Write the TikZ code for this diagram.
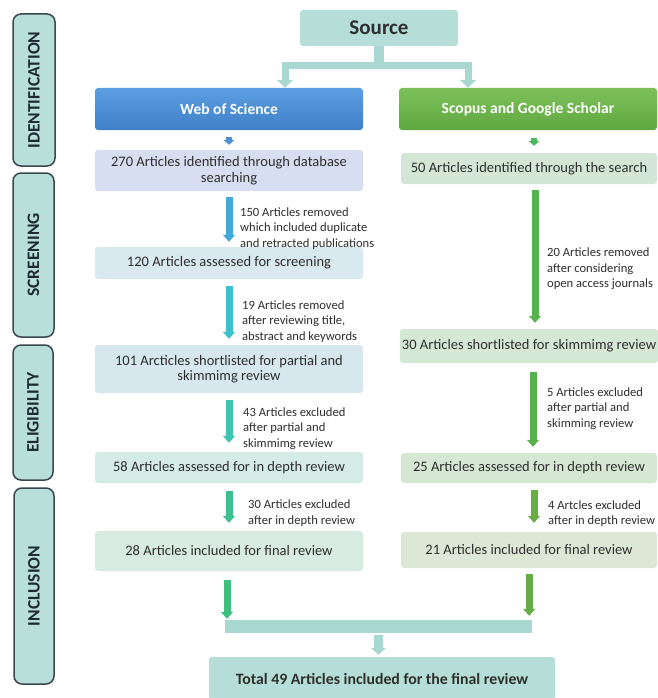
\documentclass[tikz,border=0pt]{standalone}
\usepackage{fontspec}
\setmainfont{Carlito}
\usetikzlibrary{arrows.meta,calc}
\definecolor{txt}{HTML}{2E2E2E}
\definecolor{sidefill}{HTML}{B9DFDA}
\definecolor{sideborder}{HTML}{3A4650}
\definecolor{sidetxt}{HTML}{1E2A33}
\definecolor{srcfill}{HTML}{B5DED9}
\definecolor{srcarrow}{HTML}{A9D8D3}
\definecolor{wostop}{HTML}{5C9EE0}
\definecolor{wosbot}{HTML}{3F80C9}
\definecolor{scotop}{HTML}{7DC05A}
\definecolor{scobot}{HTML}{5FA83F}
\definecolor{c270}{HTML}{D8DEF1}
\definecolor{c120}{HTML}{D9E9F0}
\definecolor{c101}{HTML}{D6E8EE}
\definecolor{c58}{HTML}{D5EBE6}
\definecolor{c28}{HTML}{D7EBE3}
\definecolor{c50}{HTML}{D4E7D7}
\definecolor{c30}{HTML}{D5E8D5}
\definecolor{c25}{HTML}{D6E8D4}
\definecolor{c21}{HTML}{DCE8D5}
\definecolor{a1}{HTML}{4F8FD8}
\definecolor{a2}{HTML}{45A8DA}
\definecolor{a3}{HTML}{3EC0CC}
\definecolor{a4}{HTML}{40C4B2}
\definecolor{a5}{HTML}{3CC08E}
\definecolor{a6}{HTML}{3EBF80}
\definecolor{ga}{HTML}{4DB85E}
\definecolor{gb}{HTML}{55B24C}
\definecolor{gc}{HTML}{68AC46}
\begin{document}
\begin{tikzpicture}[x=1pt,y=-1pt,
  box/.style={rectangle, rounded corners=3pt, inner sep=2pt, align=center,
    text=txt, font=\fontsize{14.5}{15.5}\selectfont},
  side/.style={rectangle, rounded corners=8pt, draw=sideborder, line width=1.5pt,
    fill=sidefill, rotate=90, text=sidetxt, font=\fontsize{17.5}{20}\selectfont\bfseries},
  note/.style={anchor=west, align=left, inner sep=0pt, text=txt,
    font=\fontsize{12.6}{15.5}\selectfont},
  flow/.style={line width=7pt, -{Triangle[width=12pt,length=7pt]}},
  srcflow/.style={draw=srcarrow, line width=7pt, line join=miter,
    -{Triangle[width=16pt,length=8pt]}},
]
\useasboundingbox (0,0) rectangle (657,698);

% phase labels
\node[side, minimum width=152, minimum height=42] (sid) at (34,90) {IDENTIFICATION};
\node[side, minimum width=164, minimum height=41] (sscr) at (33.5,255) {SCREENING};
\node[side, minimum width=135, minimum height=40] (seli) at (33,412.5) {ELIGIBILITY};
\node[side, minimum width=196, minimum height=40] (sinc) at (34,586) {INCLUSION};

% source
\node[box, fill=srcfill, minimum width=158, minimum height=36,
  font=\fontsize{21}{24}\selectfont\bfseries] (src) at (379,28) {Source};
\node[box, top color=wostop, bottom color=wosbot, minimum width=268, minimum height=42,
  text=white, font=\fontsize{15.5}{18}\selectfont\bfseries] (wos) at (229,109) {Web of Science};
\node[box, top color=scotop, bottom color=scobot, minimum width=258, minimum height=42,
  text=white, font=\fontsize{15.5}{18}\selectfont\bfseries] (sco) at (528,109) {Scopus and Google Scholar};

\coordinate (jl) at (285,66);
\coordinate (jr) at (468,66);
\draw[draw=srcarrow, line width=10pt] (src.south) -- (src.south |- jl);
\draw[srcflow] (src.south |- jl) -- (jl) -- (jl |- wos.north);
\draw[srcflow] (src.south |- jr) -- (jr) -- (jr |- sco.north);

% left column
\node[box, fill=c270, minimum width=268, minimum height=41] (n270) at (229,170.5)
  {270 Articles identified through database\\searching};
\node[box, fill=c120, minimum width=268, minimum height=32] (n120) at (229,263)
  {120 Articles assessed for screening};
\node[box, fill=c101, minimum width=268, minimum height=48] (n101) at (229,369)
  {101 Arcticles shortlisted for partial and\\skimmimg review};
\node[box, fill=c58, minimum width=268, minimum height=31] (n58) at (229,467.5)
  {58 Articles assessed for in depth review};
\node[box, fill=c28, minimum width=268, minimum height=40] (n28) at (229,551)
  {28 Articles included for final review};

% right column
\node[box, fill=c50, minimum width=256, minimum height=31] (n50) at (529,168.5)
  {50 Articles identified through the search};
\node[box, fill=c30, minimum width=256, minimum height=34] (n30) at (529,346)
  {30 Articles shortlisted for skimmimg review};
\node[box, fill=c25, minimum width=256, minimum height=30] (n25) at (529,468)
  {25 Articles assessed for in depth review};
\node[box, fill=c21, minimum width=256, minimum height=36] (n21) at (529,550)
  {21 Articles included for final review};

% merge bar and total
\node[rectangle, fill=srcarrow, minimum width=307, minimum height=13, inner sep=0pt] (merge) at (378.5,626.5) {};
\node[box, fill=srcfill, minimum width=346, minimum height=43,
  font=\fontsize{15.8}{18}\selectfont\bfseries] (total) at (382,678.5)
  {Total 49 Articles included for the final review};

% left arrows
\draw[flow, draw=a1, line width=6pt, -{Triangle[width=11pt,length=5pt]},
  shorten <=7pt, shorten >=5pt] (wos.south) -- (n270.north);
\draw[flow, draw=a2, shorten <=6pt, shorten >=5pt] (n270.south) -- (n120.north);
\draw[flow, draw=a3, shorten <=7pt, shorten >=6pt] (n120.south) -- (n101.north);
\draw[flow, draw=a4, shorten <=7pt, shorten >=9pt] (n101.south) -- (n58.north);
\draw[flow, draw=a5, shorten <=8pt, shorten >=8pt] (n58.south) -- (n28.north);
\draw[flow, draw=a6, shorten <=9pt, shorten >=1pt]
  ([xshift=-2pt]n28.south) -- ([xshift=-2pt]n28.south |- merge.north);

% right arrows
\draw[flow, draw=ga, line width=6pt, -{Triangle[width=11pt,length=5pt]},
  shorten <=8pt, shorten >=7pt] ([xshift=6pt]sco.south) -- ([xshift=6pt]sco.south |- n50.north);
\draw[flow, draw=gb, shorten <=6pt, shorten >=6pt] ([xshift=6pt]n50.south) -- ([xshift=6pt]n30.north);
\draw[flow, draw=gb, shorten <=9pt, shorten >=6pt] ([xshift=4pt]n30.south) -- ([xshift=4pt]n25.north);
\draw[flow, draw=gc, shorten <=7pt, shorten >=9pt] ([xshift=5pt]n25.south) -- ([xshift=5pt]n21.north);
\draw[flow, draw=gc, shorten <=6pt, shorten >=4pt]
  ([xshift=-3pt]merge.east |- n21.south) -- ([xshift=-3pt]merge.east |- merge.north);

% merge to total
\draw[srcflow, line width=9pt, -{Triangle[width=15pt,length=7pt]}, shorten <=2pt, shorten >=2pt]
  (merge.south) -- (merge.south |- total.north);

% notes
\node[note] (l1) at (240,228.5) {150 Articles removed\\which included duplicate\\and retracted publications};
\node[note] (l2) at (242,321.5) {19 Articles removed\\after reviewing title,\\abstract and keywords};
\node[note] (l3) at (243,428.5) {43 Articles excluded\\after partial and\\skimmimg review};
\node[note] (l4) at (248,513) {30 Articles excluded\\after in depth review};
\node[note] (r1) at (547,269) {20 Articles removed\\after considering\\open access journals};
\node[note] (r2) at (547,408.5) {5 Articles excluded\\after partial and\\skimming review};
\node[note] (r3) at (548,513.5) {4 Artcles excluded\\after in depth review};
\end{tikzpicture}
\end{document}
